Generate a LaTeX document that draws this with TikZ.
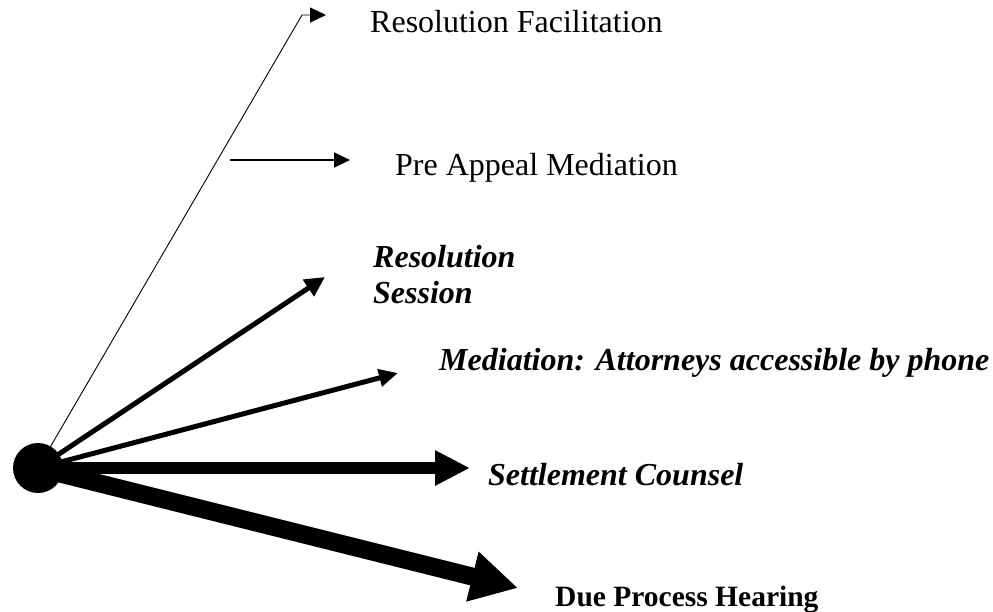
\documentclass[tikz,border=0pt]{standalone}
\usepackage{fontspec}
\setmainfont{Liberation Serif}
\usetikzlibrary{arrows.meta}
\begin{document}
\begin{tikzpicture}[x=1pt,y=-1pt,
  lbl/.style={anchor=base west,inner sep=0pt,font=\fontsize{32}{36}\selectfont},
  lblbi/.style={lbl,font=\fontsize{32}{36}\selectfont\bfseries\itshape},
  lblb/.style={lbl,font=\fontsize{29.5}{34}\selectfont\bfseries},
  hub/.style={circle,fill=black,inner sep=0pt,minimum size=50pt}]
\useasboundingbox (0,0) rectangle (993,611);
\node[hub] (dot) at (38,468) {};
% free ends
\coordinate (bend) at (302,15);
\coordinate (tfac) at (326,15);
\coordinate (pas) at (230,160);
\coordinate (tpa) at (350,160);
\coordinate (trs) at (325,277);
\coordinate (tmed) at (398,373);
\coordinate (tset) at (470,468);
\coordinate (tdue) at (518,588);
% labels
\node[lbl] (lfac) at (370,32) {Resolution Facilitation};
\node[lbl] (lpa) at (395,175) {Pre Appeal Mediation};
\node[lblbi,align=left,anchor=base west] (lrs) at (373,303) {Resolution\\Session};
\node[lblbi] (lmed) at (439,370) {Mediation: Attorneys accessible by phone};
\node[lblbi] (lset) at (488,485) {Settlement Counsel};
\node[lblb] (ldue) at (555,606) {Due Process Hearing};
% connectors
\draw[line width=0.9pt,-{Triangle[length=16pt,width=15pt]}] (dot.center) -- (bend) -- (tfac);
\draw[line width=2pt,-{Triangle[length=16pt,width=15pt]}] (pas) -- (tpa);
\draw[line width=5pt,-{Triangle[length=20pt,width=19pt]}] (dot.center) -- (trs);
\draw[line width=5pt,-{Triangle[length=19pt,width=17pt]}] (dot.center) -- (tmed);
\draw[line width=12pt,-{Triangle[length=35pt,width=33pt]}] (dot.center) -- (tset);
\draw[line width=18pt,-{Triangle[length=47pt,width=48pt]}] (dot.center) -- (tdue);
\end{tikzpicture}
\end{document}
